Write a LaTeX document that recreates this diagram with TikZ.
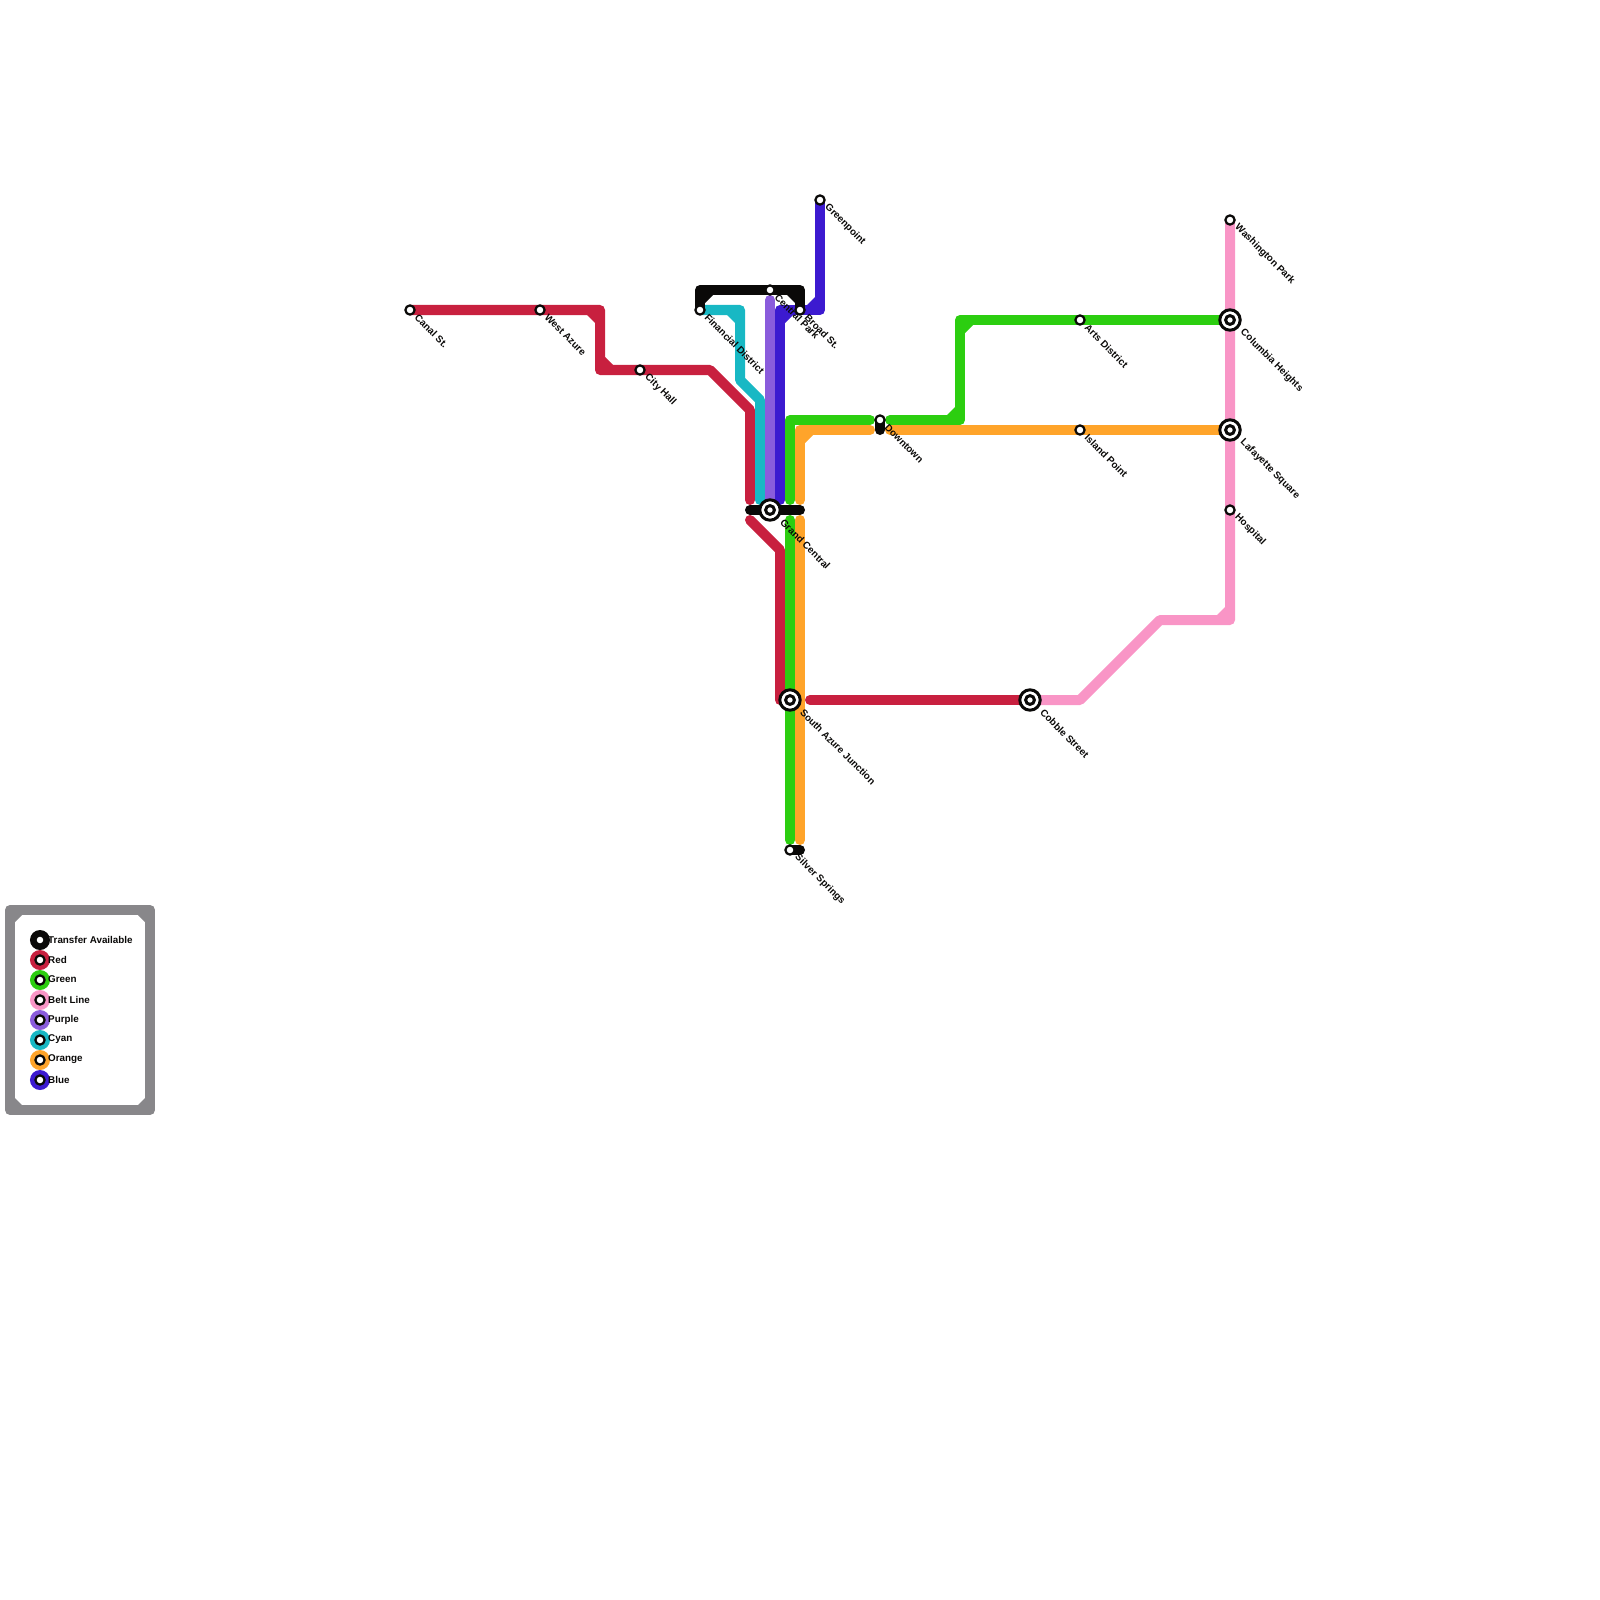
\documentclass[tikz,border=0pt]{standalone}
\usepackage{fontspec}
\setmainfont{Liberation Sans}
\definecolor{cRed}{HTML}{C8203F}
\definecolor{cGreen}{HTML}{2CCE10}
\definecolor{cPink}{HTML}{F995C6}
\definecolor{cPurple}{HTML}{8A5CDC}
\definecolor{cCyan}{HTML}{18B8C4}
\definecolor{cOrange}{HTML}{FFA42A}
\definecolor{cBlue}{HTML}{3C1AD0}
\definecolor{cBlack}{HTML}{0A0908}
\definecolor{cFrame}{HTML}{88878A}
\tikzset{
  route/.style={line width=0.1cm,line cap=round,line join=round},
  stn/.style={circle,draw=cBlack,fill=white,line width=0.022cm,minimum size=0.092cm,inner sep=0pt,outer sep=0pt},
  hubcore/.style={circle,draw=cBlack,fill=white,line width=0.03cm,minimum size=0.088cm,inner sep=0pt,outer sep=0pt},
  hub/.style={circle,draw=cBlack,fill=white,line width=0.03cm,minimum size=0.204cm,inner sep=0pt,outer sep=0pt},
  lbl/.style={font=\fontsize{2.8}{3}\selectfont\bfseries,text=cBlack,rotate=-45,anchor=west,inner sep=0pt},
  keytext/.style={font=\fontsize{2.8}{3}\selectfont\bfseries,text=cBlack,anchor=west,inner sep=0pt},
  disc/.style={circle,minimum size=0.2cm,inner sep=0pt,outer sep=0pt},
}
\newcommand{\cham}[4]{\fill[#1] (#2) ++(5*#3,5*#4) -- ++(8*#3,0) -- ++(-8*#3,8*#4) -- cycle;}
\newcommand{\legendrow}[4]{%
  \node[disc,fill=#3] (#1d) at (40,#2) {};
  \node[stn] (#1s) at (40,#2) {};
  \node[keytext] (#1t) at (47.5,#2-0.5) {#4};}
\begin{document}
\begin{tikzpicture}[x=0.01cm,y=-0.01cm]
\useasboundingbox (0,0) rectangle (1600,1600);
% stations
\coordinate (canal) at (410,310);
\coordinate (azure) at (540,310);
\coordinate (hall) at (640,370);
\coordinate (fin) at (700,310);
\coordinate (park) at (770,290);
\coordinate (broad) at (800,310);
\coordinate (green) at (820,200);
\coordinate (grand) at (770,510);
\coordinate (south) at (790,700);
\coordinate (silver) at (790,850);
\coordinate (down) at (880,420);
\coordinate (arts) at (1080,320);
\coordinate (island) at (1080,430);
\coordinate (cobble) at (1030,700);
\coordinate (wash) at (1230,220);
\coordinate (colum) at (1230,320);
\coordinate (lafay) at (1230,430);
\coordinate (hosp) at (1230,510);
% bends
\coordinate (r1) at (600,310);
\coordinate (r2) at (600,370);
\coordinate (r3) at (710,370);
\coordinate (r4) at (750,410);
\coordinate (r5) at (750,500);
\coordinate (r6) at (750,520);
\coordinate (r7) at (780,550);
\coordinate (r8) at (780,700);
\coordinate (r9) at (810,700);
\coordinate (c1) at (740,310);
\coordinate (c2) at (740,380);
\coordinate (c3) at (760,400);
\coordinate (c4) at (760,500);
\coordinate (p1) at (770,300);
\coordinate (p2) at (770,500);
\coordinate (b1) at (820,310);
\coordinate (b2) at (780,310);
\coordinate (b3) at (780,500);
\coordinate (g1) at (790,500);
\coordinate (g2) at (790,420);
\coordinate (g3) at (870,420);
\coordinate (g4) at (890,420);
\coordinate (g5) at (960,420);
\coordinate (g6) at (960,320);
\coordinate (g7) at (790,520);
\coordinate (g8) at (790,840);
\coordinate (o1) at (800,500);
\coordinate (o2) at (800,430);
\coordinate (o3) at (870,430);
\coordinate (o4) at (890,430);
\coordinate (o5) at (800,520);
\coordinate (o6) at (800,840);
\coordinate (k1) at (1080,700);
\coordinate (k2) at (1160,620);
\coordinate (k3) at (1230,620);
\coordinate (t1) at (700,290);
\coordinate (t2) at (800,290);
\coordinate (t3) at (750,510);
\coordinate (t4) at (800,510);
\coordinate (t5) at (800,850);
\coordinate (t6) at (880,430);
% routes
\draw[route,cRed] (canal) -- (azure) -- (r1) -- (r2) -- (hall) -- (r3) -- (r4) -- (r5);
\draw[route,cRed] (r6) -- (r7) -- (r8) -- (south);
\draw[route,cRed] (r9) -- (cobble);
\cham{cRed}{r1}{-1}{1}
\cham{cRed}{r2}{1}{-1}
\draw[route,cCyan] (fin) -- (c1) -- (c2) -- (c3) -- (c4);
\cham{cCyan}{c1}{-1}{1}
\draw[route,cPurple] (p1) -- (p2);
\draw[route,cBlue] (green) -- (b1) -- (b2) -- (b3);
\cham{cBlue}{b1}{-1}{-1}
\cham{cBlue}{b2}{1}{1}
\draw[route,cGreen] (g1) -- (g2) -- (g3);
\draw[route,cGreen] (g4) -- (g5) -- (g6) -- (arts) -- (colum);
\draw[route,cGreen] (g7) -- (south) -- (g8);
\cham{cGreen}{g5}{-1}{-1}
\cham{cGreen}{g6}{1}{1}
\draw[route,cOrange] (o1) -- (o2) -- (o3);
\draw[route,cOrange] (o4) -- (island) -- (lafay);
\draw[route,cOrange] (o5) -- (o6);
\cham{cOrange}{o2}{1}{1}
\draw[route,cPink] (wash) -- (colum) -- (lafay) -- (hosp) -- (k3) -- (k2) -- (k1) -- (cobble);
\cham{cPink}{k3}{-1}{-1}
\draw[route,cBlack] (fin) -- (t1) -- (park) -- (t2) -- (broad);
\cham{cBlack}{t1}{1}{1}
\cham{cBlack}{t2}{-1}{1}
\draw[route,cBlack] (t3) -- (t4);
\draw[route,cBlack] (silver) -- (t5);
\draw[route,cBlack] (down) -- (t6);
% station markers
\foreach \n in {grand,south,cobble,colum,lafay} {\node[hub] (\n H) at (\n) {}; \node[hubcore] (\n S) at (\n) {};}
\foreach \n in {canal,azure,hall,fin,broad,green,silver,down,arts,island,wash,hosp,park} {\node[stn] (\n S) at (\n) {};}
% labels
\node[lbl] (canalL) at ([shift={(6,5.5)}]canal) {Canal St.};
\node[lbl] (azureL) at ([shift={(6,5.5)}]azure) {West Azure};
\node[lbl] (hallL) at ([shift={(6,5.5)}]hall) {City Hall};
\node[lbl] (finL) at ([shift={(6,5.5)}]fin) {Financial District};
\node[lbl] (parkL) at ([shift={(6,5.5)}]park) {Central Park};
\node[lbl] (broadL) at ([shift={(6,5.5)}]broad) {Broad St.};
\node[lbl] (greenL) at ([shift={(6,5.5)}]green) {Greenpoint};
\node[lbl] (grandL) at ([shift={(11.5,10.5)}]grand) {Grand Central};
\node[lbl] (southL) at ([shift={(11.5,10.5)}]south) {South Azure Junction};
\node[lbl] (silverL) at ([shift={(6,5.5)}]silver) {Silver Springs};
\node[lbl] (downL) at ([shift={(6,5.5)}]down) {Downtown};
\node[lbl] (artsL) at ([shift={(6,5.5)}]arts) {Arts District};
\node[lbl] (islandL) at ([shift={(6,5.5)}]island) {Island Point};
\node[lbl] (cobbleL) at ([shift={(11.5,10.5)}]cobble) {Cobble Street};
\node[lbl] (washL) at ([shift={(6,5.5)}]wash) {Washington Park};
\node[lbl] (columL) at ([shift={(11.5,10.5)}]colum) {Columbia Heights};
\node[lbl] (lafayL) at ([shift={(11.5,10.5)}]lafay) {Lafayette Square};
\node[lbl] (hospL) at ([shift={(6,5.5)}]hosp) {Hospital};
% legend
\draw[line width=0.1cm,cFrame,line join=round] (10,910) rectangle (150,1110);
\fill[cFrame] (15,915) -- (22,915) -- (15,922) -- cycle;
\fill[cFrame] (145,915) -- (138,915) -- (145,922) -- cycle;
\fill[cFrame] (15,1105) -- (22,1105) -- (15,1098) -- cycle;
\fill[cFrame] (145,1105) -- (138,1105) -- (145,1098) -- cycle;
\legendrow{lgA}{940}{cBlack}{Transfer Available}
\legendrow{lgB}{960}{cRed}{Red}
\legendrow{lgC}{980}{cGreen}{Green}
\legendrow{lgD}{1000}{cPink}{Belt Line}
\legendrow{lgE}{1020}{cPurple}{Purple}
\legendrow{lgF}{1040}{cCyan}{Cyan}
\legendrow{lgG}{1060}{cOrange}{Orange}
\legendrow{lgH}{1080}{cBlue}{Blue}
\end{tikzpicture}
\end{document}
